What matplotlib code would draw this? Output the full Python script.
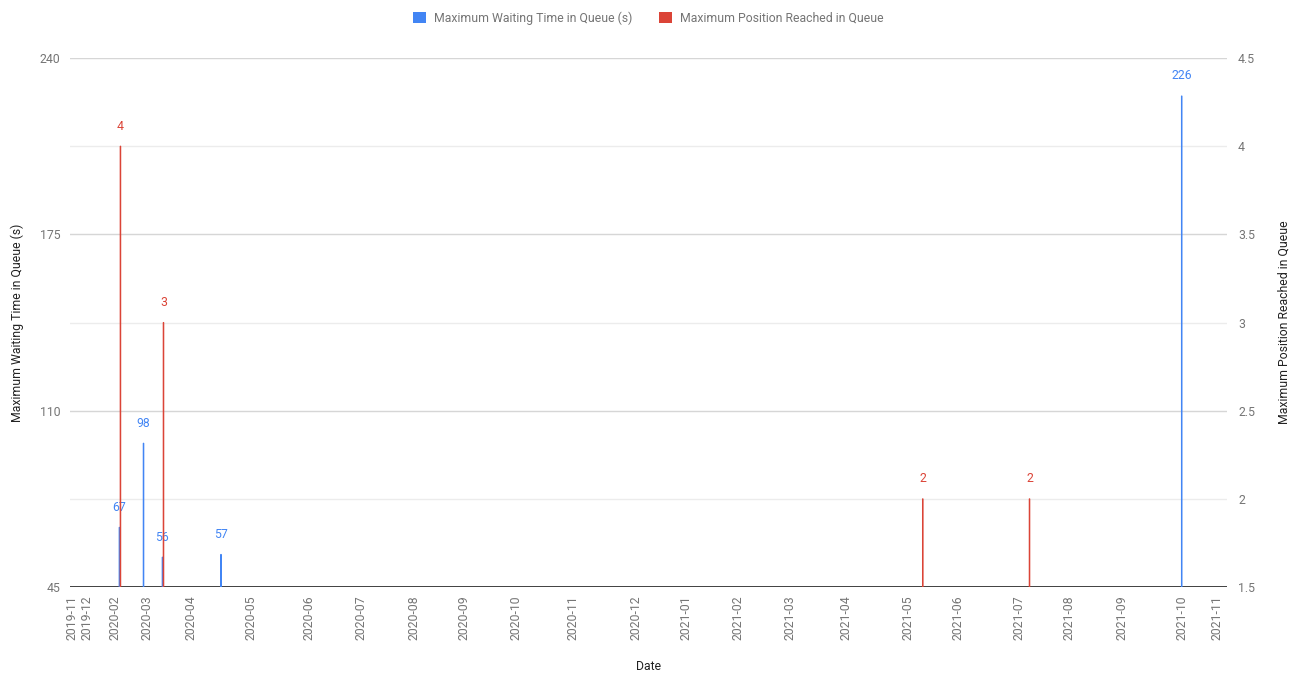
import matplotlib
matplotlib.use('Agg')
import matplotlib.pyplot as plt
import matplotlib.dates as mdates
from matplotlib.patches import Patch
import numpy as np

plt.rcParams['font.family'] = ['Roboto', 'DejaVu Sans']

# ---- data ----
dates = ['2020-01-23', '2020-02-06', '2020-02-17', '2020-03-22',
         '2021-05-03', '2021-07-04', '2021-10-01']
wait_s = [67, 98, 56, 57, None, None, 226]          # Maximum Waiting Time in Queue (s)
max_pos = [4, None, 3, None, 2, 2, None]            # Maximum Position Reached in Queue

tick_dates = ['2019-12-26', '2020-01-04', '2020-01-20', '2020-02-08', '2020-03-04',
              '2020-04-08', '2020-05-12', '2020-06-11', '2020-07-12', '2020-08-10',
              '2020-09-09', '2020-10-12', '2020-11-18', '2020-12-17', '2021-01-16',
              '2021-02-15', '2021-03-20', '2021-04-25', '2021-05-24', '2021-06-28',
              '2021-07-27', '2021-08-27', '2021-10-01', '2021-10-21']
tick_labels = ['2019-11', '2019-12', '2020-02', '2020-03', '2020-04', '2020-05',
               '2020-06', '2020-07', '2020-08', '2020-09', '2020-10', '2020-11',
               '2020-12', '2021-01', '2021-02', '2021-03', '2021-04', '2021-05',
               '2021-06', '2021-07', '2021-08', '2021-09', '2021-10', '2021-11']
x_range = ['2019-12-25', '2021-10-27']

left_ticks = [45, 110, 175, 240]
right_ticks = [1.5, 2, 2.5, 3, 3.5, 4, 4.5]

series_names = ['Maximum Waiting Time in Queue (s)', 'Maximum Position Reached in Queue']
BLUE = '#4285F4'
RED = '#DB4437'
TEXT = '#757575'

# ---- figure ----
fig = plt.figure(figsize=(12.97, 6.73), dpi=100)
ax = fig.add_axes([70 / 1297, 1 - 587 / 673, (1227 - 70) / 1297, (587 - 58) / 673])
ax2 = ax.twinx()

x = mdates.datestr2num(dates)
off = 0.3
bw = 0.3

bx = [xi - off for xi, v in zip(x, wait_s) if v is not None]
bv = [v for v in wait_s if v is not None]
rx = [xi + off for xi, v in zip(x, max_pos) if v is not None]
rv = [v for v in max_pos if v is not None]

b1 = ax.bar(bx, bv, width=bw, color=BLUE, edgecolor=BLUE, linewidth=0.75, zorder=3)
b2 = ax2.bar(rx, rv, width=bw, color=RED, edgecolor=RED, linewidth=0.75, zorder=3)
for p in list(b1) + list(b2):
    p.set_snap(False)

for xi, v in zip(bx, bv):
    ax.annotate(str(v), (xi, v), xytext=(0, 20), textcoords='offset pixels',
                ha='center', va='center', color=BLUE, fontsize=8.8)
for xi, v in zip(rx, rv):
    ax2.annotate(str(v), (xi, v), xytext=(0, 20), textcoords='offset pixels',
                 ha='center', va='center', color=RED, fontsize=8.8)

ax.set_xlim(mdates.datestr2num(x_range))
ax.set_ylim(left_ticks[0], left_ticks[-1])
ax2.set_ylim(right_ticks[0], right_ticks[-1])

ax.set_yticks(left_ticks)
ax.set_yticks([(a + b) / 2 for a, b in zip(left_ticks[:-1], left_ticks[1:])], minor=True)
ax.set_yticklabels([str(t) for t in left_ticks])
ax2.set_yticks(right_ticks)
ax2.set_yticklabels([('%g' % t) for t in right_ticks])

ax.set_xticks(mdates.datestr2num(tick_dates))
ax.set_xticklabels(tick_labels, rotation=90)

ax.grid(True, axis='y', which='major', color='#d6d6d6', linewidth=1, zorder=0)
ax.grid(True, axis='y', which='minor', color='#ececec', linewidth=1, zorder=0)
ax.set_axisbelow(True)

for a in (ax, ax2):
    for s in ('top', 'left', 'right', 'bottom'):
        a.spines[s].set_visible(False)
ax.axhline(left_ticks[0], color='#333333', linewidth=1.3, zorder=2)

ax.tick_params(axis='both', which='both', length=0, colors=TEXT, labelsize=8.8)
ax.tick_params(axis='x', pad=6)
ax.tick_params(axis='y', pad=7)
ax2.tick_params(axis='y', length=0, colors=TEXT, labelsize=8.8, pad=8)

ax.set_ylabel(series_names[0], fontsize=8.8, color='#222222', labelpad=11)
ax2.set_ylabel(series_names[1], fontsize=8.8, color='#222222', labelpad=16)
ax.set_xlabel('Date', fontsize=8.8, color='#222222', labelpad=14)

handles = [Patch(facecolor=BLUE, edgecolor='none'), Patch(facecolor=RED, edgecolor='none')]
fig.legend(handles, series_names, loc='center', bbox_to_anchor=(0.5, 1 - 18 / 673),
           ncol=2, frameon=False, handlelength=1.0, handleheight=1.1,
           handletextpad=0.7, columnspacing=2.2, fontsize=8.8, labelcolor=TEXT)

fig.savefig('out.png', dpi=100)
